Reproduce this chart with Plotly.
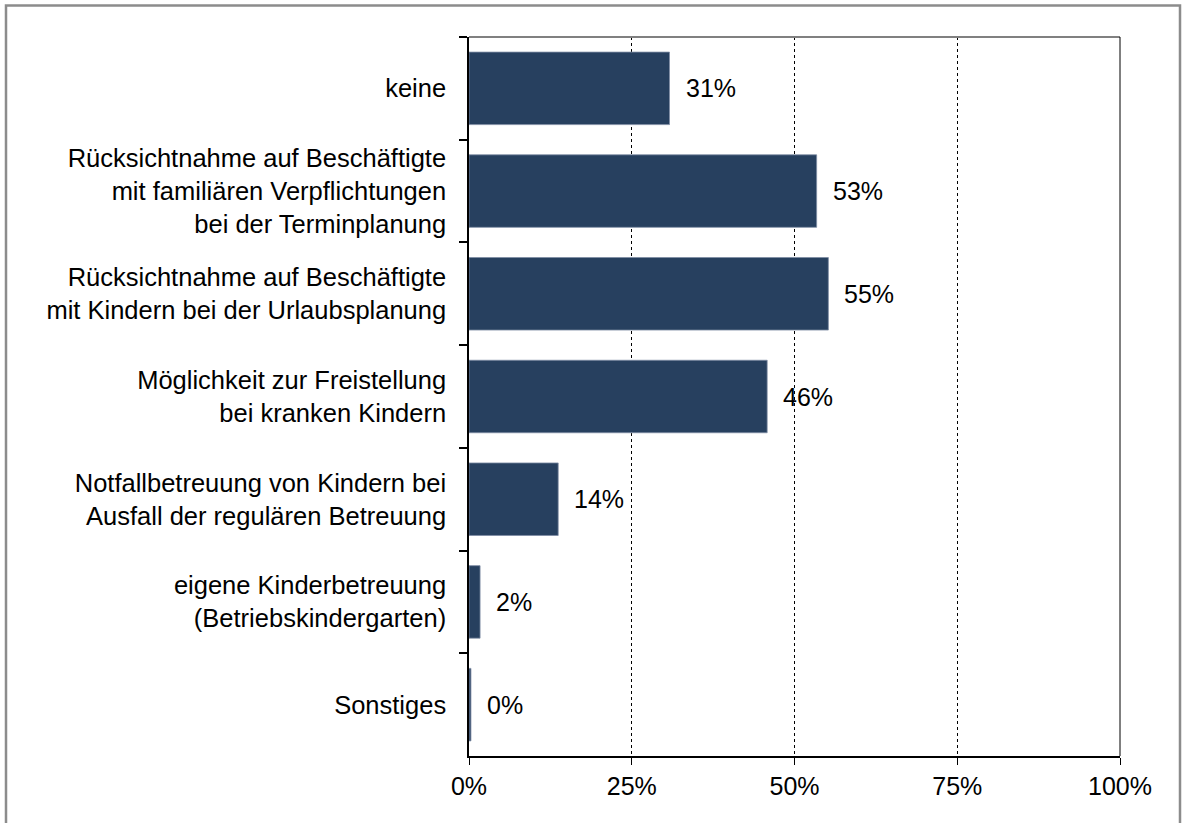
import plotly.graph_objects as go

# Survey answers (top to bottom) and shares in percent
categories = [
    "keine",
    "Rücksichtnahme auf Beschäftigte<br>mit familiären Verpflichtungen<br>bei der Terminplanung",
    "Rücksichtnahme auf Beschäftigte<br>mit Kindern bei der Urlaubsplanung",
    "Möglichkeit zur Freistellung<br>bei kranken Kindern",
    "Notfallbetreuung von Kindern bei<br>Ausfall der regulären Betreuung",
    "eigene Kinderbetreuung<br>(Betriebskindergarten)",
    "Sonstiges",
]
shares = [30.8, 53.4, 55.2, 45.8, 13.7, 1.7, 0.3]
x_ticks = [0, 25, 50, 75, 100]
x_tick_labels = ["0%", "25%", "50%", "75%", "100%"]

W, H = 1182, 823
ML, MR, MT, MB = 469, 62, 37, 67
FONT = "Liberation Sans, Arial, sans-serif"
BAR_COLOR = "#27405f"

fig = go.Figure(
    go.Bar(
        x=shares,
        y=categories,
        orientation="h",
        width=0.706,
        marker=dict(color=BAR_COLOR, line=dict(color="#7d8ca3", width=0.8)),
        hoverinfo="skip",
    )
)

# Value labels to the right of each bar
for cat, val in zip(categories, shares):
    fig.add_annotation(
        x=val, y=cat, xref="x", yref="y",
        text=f"{val:.0f}%", showarrow=False,
        xanchor="left", yanchor="middle", xshift=14,
        font=dict(family=FONT, size=25, color="black"),
    )

# Convert pixel positions to paper coordinates
pw, ph = W - ML - MR, H - MT - MB
def px(x):
    return (x - ML) / pw
def py(y):
    return 1 - (y - MT) / ph

shapes = [
    # outer frame (bottom edge runs off the page)
    dict(type="rect", xref="paper", yref="paper",
         x0=px(6), x1=px(1180), y0=py(840), y1=py(5.5),
         line=dict(color="#8c8c8c", width=2.5), fillcolor="rgba(0,0,0,0)", layer="below"),
    # plot area top border
    dict(type="line", xref="paper", yref="paper", x0=0, x1=1, y0=1, y1=1,
         line=dict(color="#808080", width=2)),
    # right edge at 100%
    dict(type="line", xref="paper", yref="paper", x0=1, x1=1, y0=0, y1=1,
         line=dict(color="black", width=1)),
]

fig.update_layout(
    width=W, height=H,
    margin=dict(l=ML, r=MR, t=MT, b=MB, pad=0),
    paper_bgcolor="white", plot_bgcolor="white",
    showlegend=False,
    shapes=shapes,
    font=dict(family=FONT, size=25, color="black"),
    xaxis=dict(
        range=[0, 100], tickvals=x_ticks, ticktext=x_tick_labels,
        showgrid=True, gridcolor="black", gridwidth=1, griddash="dot",
        showline=True, linecolor="black", linewidth=1.5,
        ticks="outside", ticklen=7, tickcolor="black", tickwidth=1,
        tickfont=dict(family=FONT, size=25, color="black"),
        zeroline=False, fixedrange=True,
    ),
    yaxis=dict(
        type="category", categoryorder="array", categoryarray=categories,
        autorange="reversed",
        showline=True, linecolor="black", linewidth=1.5,
        ticks="outside", ticklen=8, tickcolor="black", tickwidth=1.5,
        tickson="boundaries",
        ticklabelstandoff=16,
        tickfont=dict(family=FONT, size=25.5, color="black"),
        showgrid=False, zeroline=False, fixedrange=True,
    ),
)

fig.write_html("out.html")
